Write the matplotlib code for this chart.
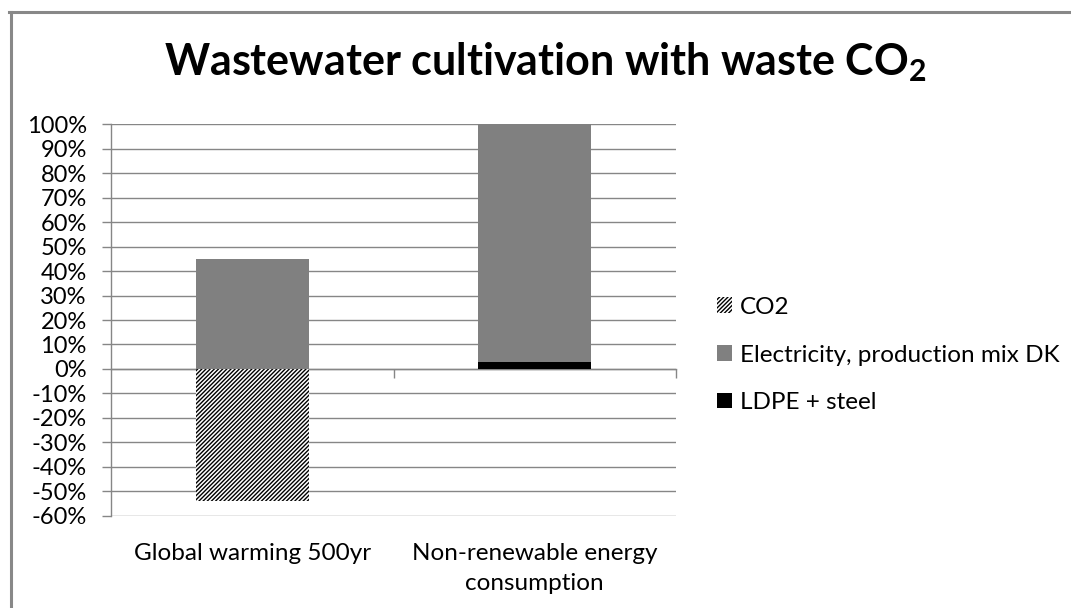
import numpy as np
import matplotlib
matplotlib.use('Agg')
import matplotlib.pyplot as plt
from matplotlib.patches import Patch
from matplotlib.lines import Line2D
from matplotlib.ticker import FixedLocator, PercentFormatter

plt.rcParams['font.family'] = ['Lato', 'DejaVu Sans']
plt.rcParams['mathtext.default'] = 'regular'
plt.rcParams['hatch.linewidth'] = 1.0
plt.rcParams['axes.unicode_minus'] = False

categories = ['Global warming 500yr', 'Non-renewable energy\nconsumption']
co2 = [-54, 0]
electricity = [45, 97]
ldpe_steel = [0, 3]
yticks = list(range(-60, 101, 10))

GRID = '#868686'
HATCH = '////////'

fig = plt.figure(figsize=(10.71, 6.08), dpi=100)
ax = fig.add_axes([111 / 1071, 1 - 515.7 / 608, 565 / 1071, 391.4 / 608])

x = np.arange(len(categories))
w = 0.4
# negative part
ax.bar(x, co2, w, color='white', edgecolor='black', hatch=HATCH, linewidth=0, zorder=3)
# positive stack
ax.bar(x, ldpe_steel, w, color='black', linewidth=0, zorder=3)
ax.bar(x, electricity, w, bottom=ldpe_steel, color='#808080', linewidth=0, zorder=3)

ax.set_xlim(-0.5, len(categories) - 0.5)
ax.set_ylim(-60, 100)
ax.set_yticks(yticks)
ax.yaxis.set_major_formatter(PercentFormatter(decimals=0))
ax.grid(axis='y', color=GRID, linewidth=1.0, zorder=0)
ax.tick_params(axis='y', length=6.5, width=1.0, color=GRID, pad=11, labelsize=17)

for s in ('top', 'right'):
    ax.spines[s].set_visible(False)
ax.spines['left'].set_color(GRID)
ax.spines['left'].set_linewidth(1.0)
ax.spines['bottom'].set_position(('data', 0))
ax.spines['bottom'].set_color(GRID)
ax.spines['bottom'].set_linewidth(1.0)

# category boundary ticks along the zero line
ax.xaxis.set_major_locator(FixedLocator([0.5, 1.5]))
ax.tick_params(axis='x', length=6.5, width=1.0, color=GRID, labelbottom=False)

# category names below the plot
sec = ax.secondary_xaxis('bottom')
sec.set_xticks(x)
sec.set_xticklabels(categories, fontsize=17.5, linespacing=1.5)
sec.tick_params(length=0, pad=20)
sec.spines['bottom'].set_visible(False)

fig.text(545 / 1071, 1 - 62 / 608, 'Wastewater cultivation with waste CO$_2$',
         fontsize=31, fontweight='bold', ha='center', va='center')

handles = [
    Patch(facecolor='white', edgecolor='black', hatch=HATCH, linewidth=0, label='CO2'),
    Patch(facecolor='#808080', label='Electricity, production mix DK'),
    Patch(facecolor='black', label='LDPE + steel'),
]
fig.legend(handles=handles, loc='center left', bbox_to_anchor=(717 / 1071, 1 - 355 / 608),
           frameon=False, fontsize=17.5, handlelength=0.6, handleheight=0.6,
           handletextpad=0.35, labelspacing=1.1, borderpad=0, borderaxespad=0)

# chart frame (left and top edges)
fig.add_artist(Line2D([10.5 / 1071, 10.5 / 1071], [0, 1 - 11.5 / 608], color='#888888', linewidth=2.2))
fig.add_artist(Line2D([9.4 / 1071, 1], [1 - 11.5 / 608, 1 - 11.5 / 608], color='#888888', linewidth=2.2))

fig.savefig('out.png', dpi=100)
